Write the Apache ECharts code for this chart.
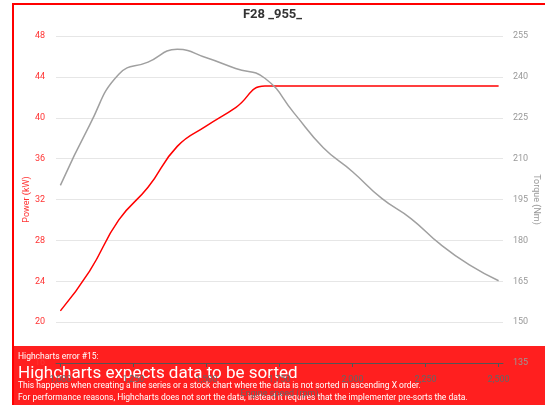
<!DOCTYPE html>
<html>
<head>
<meta charset="utf-8">
<script src="https://cdn.jsdelivr.net/npm/echarts@6/dist/echarts.min.js"></script>
<style>
  html, body { margin: 0; padding: 0; background: #fff; }
  #chart { width: 545px; height: 405px; }
</style>
</head>
<body>
<div id="chart"></div>
<script>
// engine speed (rpm) and the two curves
const rpm = [1000, 1100, 1200, 1300, 1400, 1500, 1600, 1700, 1800, 1900, 2000, 2100, 2200, 2300, 2400, 2500];
const power = [21.1, 25.0, 30.0, 33.2, 37.2, 39.2, 41.0, 43.1, 43.1, 43.1, 43.1, 43.1, 43.1, 43.1, 43.1, 43.1];
const torque = [200.2, 222.3, 241.0, 245.4, 250.1, 247.0, 243.1, 239.5, 226.7, 214.0, 205.2, 195.4, 188.0, 178.6, 171.0, 165.2];
const xTicks = [1000, 1250, 1500, 1750, 2000, 2250, 2500];

const errTitle = 'Highcharts error #15:';
const errHead = 'Highcharts expects data to be sorted';
const errLines = [
    'This happens when creating a line series or a stock chart where the data is not sorted in ascending X order.',
    'For performance reasons, Highcharts does not sort the data, instead it requires that the implementer pre-sorts the data.'
];

const font = 'Roboto';
const toPairs = (xs, ys) => xs.map((x, i) => [x, ys[i]]);

const chart = echarts.init(document.getElementById('chart'), null, { renderer: 'canvas' });

const option = {
    animation: false,
    backgroundColor: '#fff',
    title: {
        text: 'F28 _955_',
        left: 'center',
        top: 3,
        textStyle: { fontFamily: font, fontSize: 13, fontWeight: 'bold', color: '#333' }
    },
    grid: { left: 56, right: 42, top: 36, bottom: 42, containLabel: false, outerBoundsMode: 'none' },
    xAxis: {
        type: 'value',
        min: 985,
        max: 2515,
        name: 'Engine speed (rpm)',
        nameLocation: 'middle',
        nameGap: 26,
        nameMoveOverlap: false,
        nameTextStyle: { fontFamily: font, fontSize: 9, color: '#666' },
        axisLine: { show: true, lineStyle: { color: '#555' } },
        axisTick: { show: true, length: 4, customValues: xTicks, lineStyle: { color: '#555' } },
        axisLabel: { customValues: xTicks, margin: 12, fontFamily: font, fontSize: 9, color: '#666' },
        splitLine: { show: false }
    },
    yAxis: [
        {
            type: 'value',
            min: 16,
            max: 48,
            interval: 4,
            position: 'left',
            name: 'Power (kW)',
            nameLocation: 'middle',
            nameGap: 25,
            nameMoveOverlap: false,
            nameTextStyle: { fontFamily: font, fontSize: 9, color: '#ff3333' },
            axisLine: { show: false },
            axisTick: { show: false },
            axisLabel: { margin: 11, fontFamily: font, fontSize: 9, color: '#ff3333' },
            splitLine: { lineStyle: { color: '#e6e6e6' } }
        },
        {
            type: 'value',
            min: 135,
            max: 255,
            interval: 15,
            position: 'right',
            name: 'Torque (Nm)',
            nameLocation: 'middle',
            nameGap: 29,
            nameRotate: -90,
            nameMoveOverlap: false,
            nameTextStyle: { fontFamily: font, fontSize: 9, color: '#999' },
            axisLine: { show: false },
            axisTick: { show: false },
            axisLabel: { margin: 10, fontFamily: font, fontSize: 9, color: '#999' },
            splitLine: { show: false }
        }
    ],
    series: [
        {
            name: 'Power',
            type: 'line',
            yAxisIndex: 0,
            data: toPairs(rpm, power),
            smooth: 0.5,
            showSymbol: false,
            lineStyle: { color: '#ff0000', width: 1.5 },
            z: 2
        },
        {
            name: 'Torque',
            type: 'line',
            yAxisIndex: 1,
            data: toPairs(rpm, torque),
            smooth: 0.5,
            showSymbol: false,
            lineStyle: { color: '#a0a0a0', width: 1.5 },
            z: 3
        }
    ],
    graphic: [
        {
            type: 'rect',
            z: 50,
            silent: true,
            shape: { x: 13, y: 4, width: 560, height: 430 },
            style: { fill: 'none', stroke: '#ff0000', lineWidth: 2 }
        },
        {
            type: 'group',
            z: 100,
            silent: true,
            children: [
                {
                    type: 'rect',
                    shape: { x: 14, y: 346, width: 540, height: 70 },
                    style: { fill: 'rgba(255,0,0,0.88)' }
                },
                {
                    type: 'text',
                    style: { x: 18, y: 356.5, text: errTitle, fill: '#fff', font: '8.5px Roboto', verticalAlign: 'middle' }
                },
                {
                    type: 'text',
                    style: { x: 18, y: 373.3, text: errHead, fill: '#fff', font: '17px Roboto', verticalAlign: 'middle' }
                },
                {
                    type: 'text',
                    style: { x: 18, y: 385.7, text: errLines[0], fill: '#fff', font: '8.5px Roboto', verticalAlign: 'middle' }
                },
                {
                    type: 'text',
                    style: { x: 18, y: 397.7, text: errLines[1], fill: '#fff', font: '8.5px Roboto', verticalAlign: 'middle' }
                }
            ]
        }
    ]
};

chart.setOption(option);
</script>
</body>
</html>
